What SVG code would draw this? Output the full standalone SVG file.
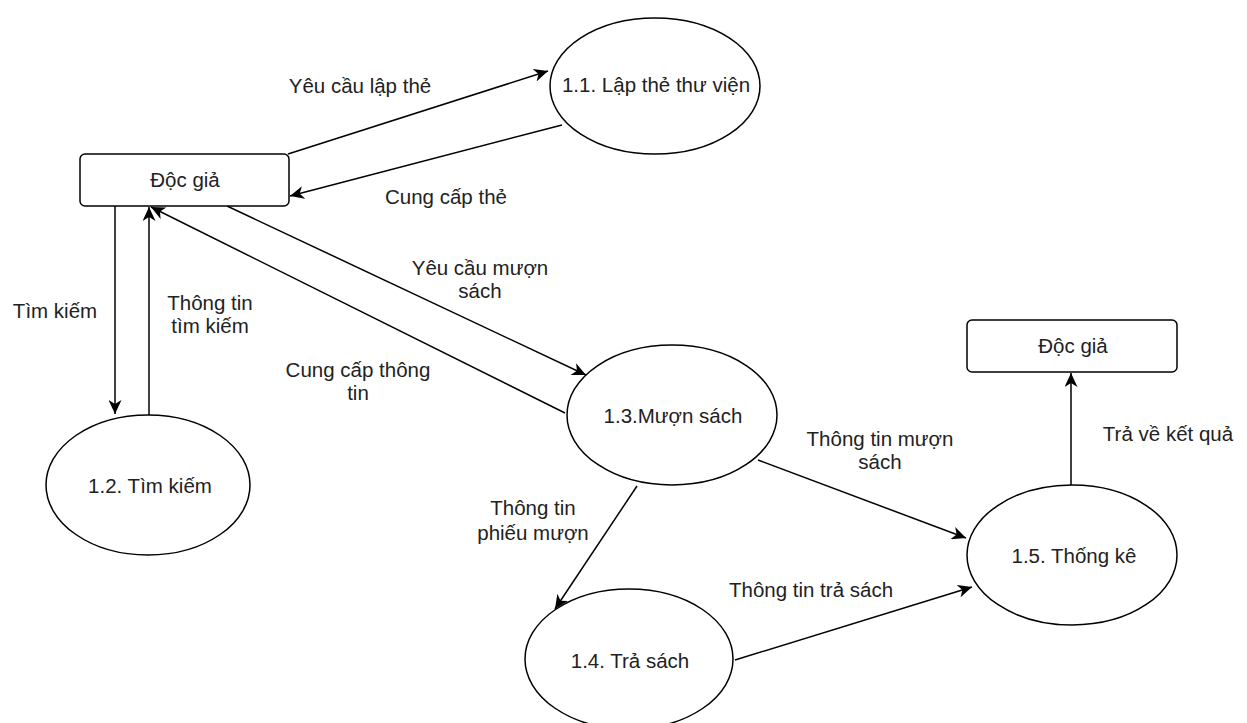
<svg xmlns="http://www.w3.org/2000/svg" width="1247" height="723" viewBox="0 0 1247 723">
  <style>
    .shape { fill: #ffffff; stroke: #000000; stroke-width: 1.5; }
    .flow { fill: none; stroke: #000000; stroke-width: 1.5; marker-end: url(#arrow); }
    text { font-family: "Liberation Sans", Arial, sans-serif; font-size: 20.5px; fill: #222222; text-anchor: middle; }
  </style>
  <defs>
    <!-- classic notched arrowhead, tip placed at the line end -->
    <marker id="arrow" markerUnits="userSpaceOnUse" markerWidth="15" markerHeight="13" viewBox="0 0 15 13" refX="14" refY="6.5" orient="auto">
      <path d="M0,0 L14,6.5 L0,13 L4,6.5 Z" fill="#000000"/>
    </marker>
  </defs>
  <rect width="1247" height="723" fill="#ffffff"/>

  <!-- connectors -->
  <g id="connectors">
    <line class="flow" x1="288" y1="154" x2="548" y2="71"/>
    <line class="flow" x1="562" y1="125" x2="290" y2="196"/>
    <line class="flow" x1="115" y1="206" x2="115" y2="414"/>
    <line class="flow" x1="149" y1="415" x2="149" y2="207"/>
    <line class="flow" x1="565" y1="413" x2="151" y2="207"/>
    <line class="flow" x1="227" y1="206" x2="586" y2="375"/>
    <line class="flow" x1="637" y1="486" x2="555" y2="609"/>
    <line class="flow" x1="758" y1="460" x2="966" y2="538"/>
    <line class="flow" x1="735" y1="660" x2="972" y2="587"/>
    <line class="flow" x1="1071" y1="485" x2="1071" y2="373"/>

    <text x="360" y="93">Yêu cầu lập thẻ</text>
    <text x="446" y="204">Cung cấp thẻ</text>
    <text x="55" y="318">Tìm kiếm</text>
    <text x="210" y="310">Thông tin</text>
    <text x="210" y="333">tìm kiếm</text>
    <text x="480" y="275">Yêu cầu mượn</text>
    <text x="480" y="298">sách</text>
    <text x="358" y="377">Cung cấp thông</text>
    <text x="358" y="400">tin</text>
    <text x="533" y="515">Thông tin</text>
    <text x="533" y="540">phiếu mượn</text>
    <text x="880" y="446">Thông tin mượn</text>
    <text x="880" y="469">sách</text>
    <text x="811" y="597">Thông tin trả sách</text>
    <text x="1168" y="441">Trả về kết quả</text>
  </g>

  <g id="doc-gia-1">
    <rect class="shape" x="80" y="154" width="209" height="52" rx="5"/>
    <text x="185" y="187">Độc giả</text>
  </g>

  <g id="lap-the">
    <ellipse class="shape" cx="655" cy="86" rx="105" ry="68"/>
    <text x="656" y="92">1.1. Lập thẻ thư viện</text>
  </g>

  <g id="tim-kiem">
    <ellipse class="shape" cx="148" cy="485" rx="102" ry="70"/>
    <text x="150" y="493">1.2. Tìm kiếm</text>
  </g>

  <g id="muon-sach">
    <ellipse class="shape" cx="672" cy="415" rx="105" ry="70"/>
    <text x="673" y="423">1.3.Mượn sách</text>
  </g>

  <g id="tra-sach">
    <ellipse class="shape" cx="629" cy="659" rx="104" ry="70"/>
    <text x="630" y="668">1.4. Trả sách</text>
  </g>

  <g id="thong-ke">
    <ellipse class="shape" cx="1072" cy="555" rx="105" ry="70"/>
    <text x="1074" y="563">1.5. Thống kê</text>
  </g>

  <g id="doc-gia-2">
    <rect class="shape" x="967" y="320" width="210" height="52" rx="5"/>
    <text x="1073" y="353">Độc giả</text>
  </g>
</svg>
